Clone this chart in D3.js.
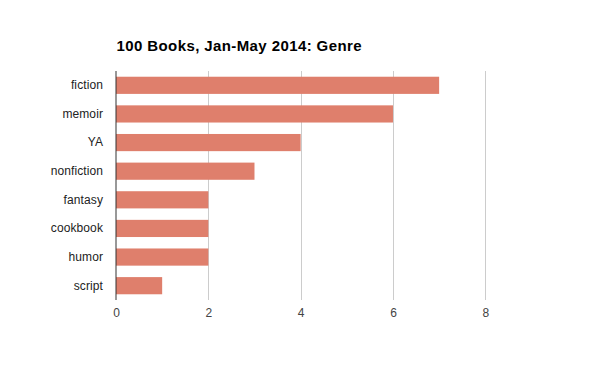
<!DOCTYPE html>
<html><head><meta charset="utf-8">
<script src="https://cdn.jsdelivr.net/npm/d3@7"></script>
<style>body{margin:0;background:#fff}svg{display:block}</style>
</head><body>
<svg id="c" width="600" height="371"></svg>
<script>
const categories = ["fiction","memoir","YA","nonfiction","fantasy","cookbook","humor","script"];
const values = [7,6,4,3,2,2,2,1];
const xTicks = [0,2,4,6,8];
const title = "100 Books, Jan-May 2014: Genre";

const svg = d3.select("#c");
const m = {left:116, right:114.7, top:71, bottom:71};
const W = 600, H = 371;
const x = d3.scaleLinear().domain([0,8]).range([m.left, W - m.right]);
const y = d3.scaleBand().domain(categories).range([m.top, H - m.bottom]).paddingInner(0.4).paddingOuter(0.2);
const font = "Arial, 'Liberation Sans', sans-serif";

svg.append("text").attr("x",116.5).attr("y",50.7).attr("font-family",font)
  .attr("font-size",15).attr("letter-spacing",0.4).attr("font-weight","bold").attr("fill","#000").text(title);

// gridlines
svg.append("g").selectAll("line").data(xTicks.filter(d=>d>0)).join("line")
  .attr("x1",d=>Math.round(x(d))+0.5).attr("x2",d=>Math.round(x(d))+0.5)
  .attr("y1",m.top).attr("y2",H-m.bottom).attr("stroke","#cccccc");

// bars
svg.append("g").selectAll("rect").data(categories).join("rect")
  .attr("x",x(0)).attr("y",d=>y(d)).attr("height",y.bandwidth())
  .attr("width",(d,i)=>x(values[i])-x(0)).attr("fill","#df7f6c");

// axis line
svg.append("line").attr("x1",116).attr("x2",116).attr("y1",m.top).attr("y2",H-m.bottom)
  .attr("stroke","#333").attr("stroke-width",1);

// x axis tick labels
const xa = svg.append("g").attr("transform",`translate(0,${H-m.bottom})`)
  .call(d3.axisBottom(x).tickValues(xTicks).tickSize(0).tickPadding(8).tickFormat(d3.format("d")));
xa.select(".domain").remove();
xa.selectAll("text").attr("font-family",font).attr("font-size",12).attr("fill","#444");

// y labels
const ya = svg.append("g").attr("transform",`translate(${m.left},0)`)
  .call(d3.axisLeft(y).tickSize(0).tickPadding(13));
ya.select(".domain").remove();
ya.selectAll("text").attr("font-family",font).attr("font-size",12).attr("letter-spacing",0.1).attr("fill","#222");
</script>
</body></html>
